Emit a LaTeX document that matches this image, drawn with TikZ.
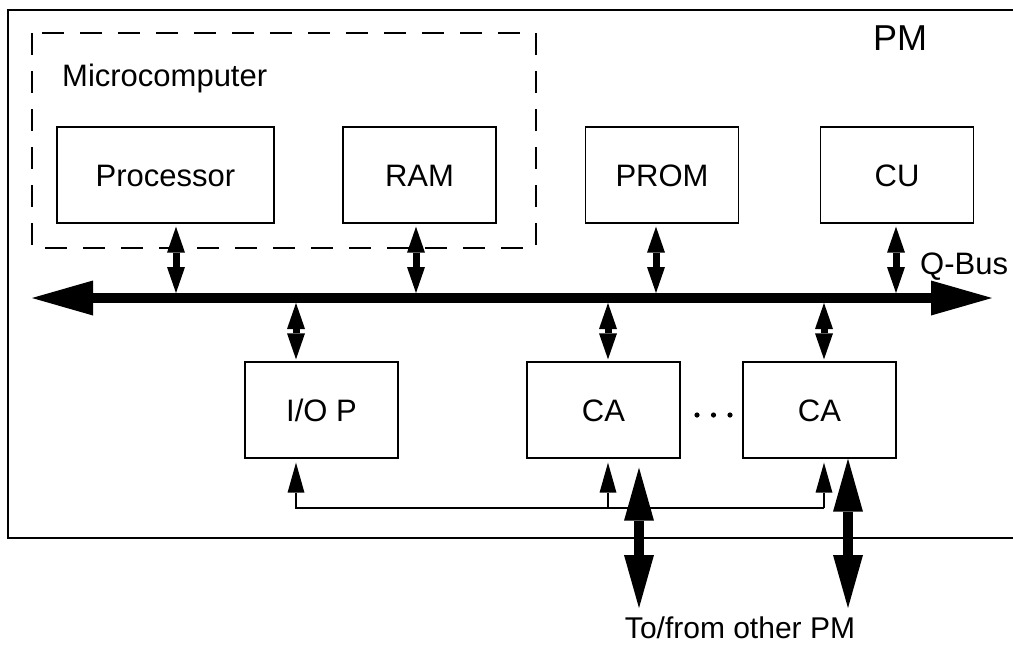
\documentclass[tikz,border=0pt]{standalone}
\usepackage{fontspec}
\setmainfont{Liberation Sans}
\usetikzlibrary{arrows.meta}
\tikzset{
  frame/.style={line width=1.4pt},
  dashbox/.style={line width=1.4pt, dash pattern=on 22pt off 16pt},
  box/.style={draw, line width=1.4pt, minimum width=153pt, minimum height=96pt,
    inner sep=0pt, font=\fontsize{31}{31}\selectfont, text height=22.2pt, text depth=0pt},
  lbl/.style={inner sep=0pt, font=\fontsize{31}{31}\selectfont, text height=22.2pt, text depth=0pt},
  medarr/.style={line width=7pt,
    {Triangle[length=26pt,width=18pt,line width=0pt]}-{Triangle[length=26pt,width=18pt,line width=0pt]}},
  thickarr/.style={line width=10pt,
    {Triangle[length=53pt,width=30pt,line width=0pt]}-{Triangle[length=53pt,width=30pt,line width=0pt]}},
  busarr/.style={line width=10pt,
    {Triangle[length=61pt,width=35pt,line width=0pt]}-{Triangle[length=61pt,width=35pt,line width=0pt]}},
  thinarr/.style={line width=1.3pt, -{Triangle[length=30pt,width=17pt,line width=0pt]}},
}
\begin{document}
\begin{tikzpicture}[x=1pt,y=-1pt]
\useasboundingbox (0,0) rectangle (1013,646);
\fill[white] (0,0) rectangle (1013,646);

% outer PM frame and microcomputer dashed frame
\draw[frame] (1013,10) -- (8,10) -- (8,538) -- (1013,538);
\draw[dashbox] (32,33) rectangle (536,248);

% labels
\node[lbl, anchor=west] (micro) at (62,75.5) {Microcomputer};
\node[lbl, font=\fontsize{36}{36}\selectfont, text height=25.8pt] (pm) at (900,37.5) {PM};
\node[lbl, anchor=west] (qbus) at (920,263) {Q-Bus};
\node[lbl, font=\fontsize{30}{30}\selectfont, text height=21.5pt] (other) at (740,628) {To/from other PM};

% boxes
\node[box, minimum width=217pt] (proc) at (165.5,175) {Processor};
\node[box] (ram)  at (419.5,175) {RAM};
\node[box] (prom) at (662,175) {PROM};
\node[box] (cu)   at (897,175) {CU};
\node[box] (iop)  at (321.5,410) {I/O P};
\node[box] (ca1)  at (603.5,410) {CA};
\node[box] (ca2)  at (819.5,410) {CA};

% dots
\fill (697,415) circle (2.6);
\fill (713.5,415) circle (2.6);
\fill (730,415) circle (2.6);

% bus
\coordinate (busL) at (32,298);
\coordinate (busR) at (992,298);
\coordinate (busT) at (0,293);
\coordinate (busB) at (0,303);
\coordinate (tl) at (0,508);
\coordinate (ext) at (0,608);
\draw[busarr] (busL) -- (busR);

% upper connectors
\coordinate (pa) at ([xshift=10.5pt]proc.south);
\coordinate (ra) at ([xshift=-3.5pt]ram.south);
\coordinate (pra) at ([xshift=-6pt]prom.south);
\coordinate (cua) at ([xshift=-1pt]cu.south);
\draw[medarr, shorten <=3pt] (pa) -- (pa |- busT);
\draw[medarr, shorten <=3pt] (ra) -- (ra |- busT);
\draw[medarr, shorten <=3pt] (pra) -- (pra |- busT);
\draw[medarr, shorten <=3pt] (cua) -- (cua |- busT);

% lower connectors
\coordinate (ia) at ([xshift=-25.5pt]iop.north);
\coordinate (c1a) at ([xshift=4.5pt]ca1.north);
\coordinate (c2a) at ([xshift=4.5pt]ca2.north);
\draw[medarr, shorten >=2pt] (ia |- busB) -- (ia);
\draw[medarr, shorten >=2pt] (c1a |- busB) -- (c1a);
\draw[medarr, shorten >=2pt] (c2a |- busB) -- (c2a);

% thin interconnect
\coordinate (ti) at ([xshift=-25.5pt]iop.south);
\coordinate (tc1) at ([xshift=4.5pt]ca1.south);
\coordinate (tc2) at ([xshift=4.5pt]ca2.south);
\draw[thinarr, shorten >=4pt] (tc2 |- tl) -- (ti |- tl) -- (ti);
\draw[thinarr, shorten >=4pt] (tc1 |- tl) -- (tc1);
\draw[thinarr, shorten >=4pt] (tc2 |- tl) -- (tc2);

% external links
\coordinate (k1) at ([xshift=35.5pt]ca1.south);
\coordinate (k2) at ([xshift=28.5pt]ca2.south);
\draw[thickarr, shorten <=9pt] (k1) -- (k1 |- ext);
\draw[thickarr] (k2) -- (k2 |- ext);
\end{tikzpicture}
\end{document}
